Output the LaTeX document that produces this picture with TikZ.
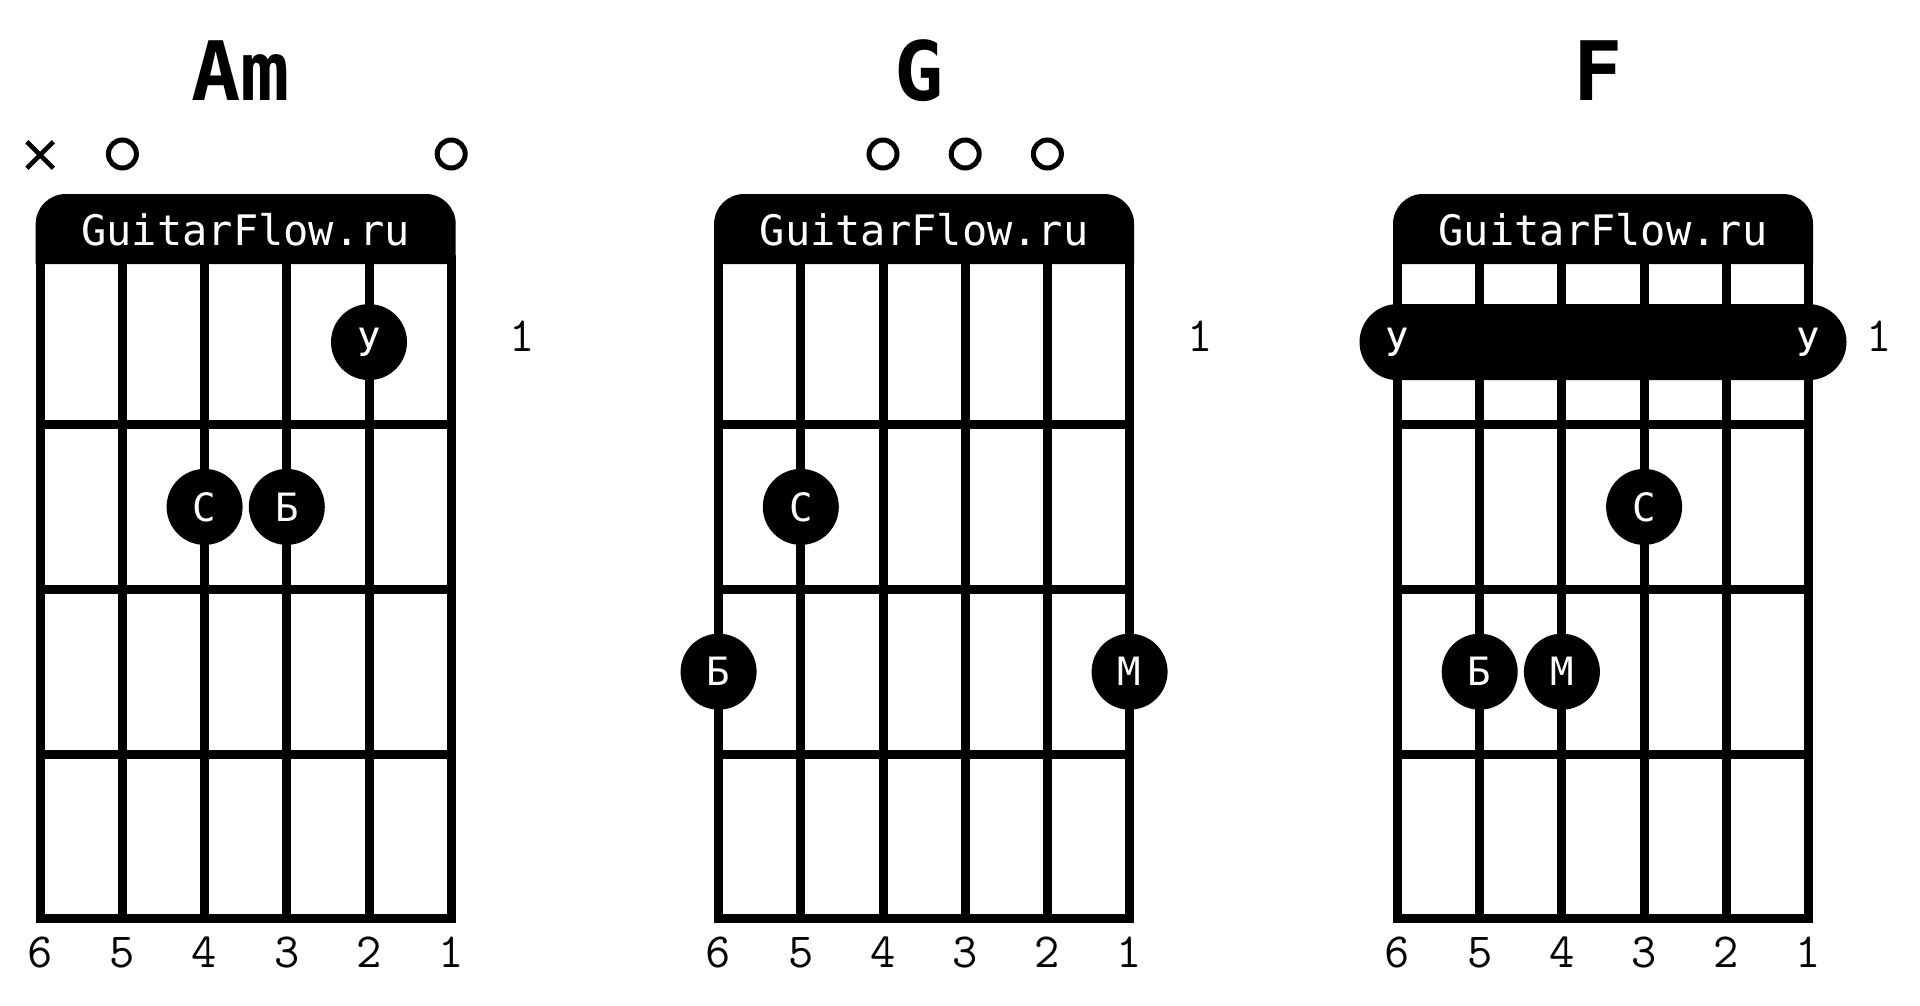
\documentclass[tikz,border=0pt]{standalone}
\usepackage{fontspec}
\usetikzlibrary{shapes.misc}
\newfontfamily\chordmono{DejaVu Sans Mono}
\tikzset{
  gridline/.style={line width=6.75pt, line join=miter},
  fretdot/.style={circle, fill=black, minimum size=57pt, inner sep=0pt, text=white,
     font=\chordmono\fontsize{29.25pt}{30pt}\selectfont, text height=21.3pt, text depth=0pt},
  barre/.style={rounded rectangle, fill=black, minimum height=57pt, inner sep=0pt},
  barrelabel/.style={inner sep=0pt, text=white,
     font=\chordmono\fontsize{29.25pt}{30pt}\selectfont, text height=21.3pt, text depth=0pt},
  openmark/.style={circle, draw, line width=3.75pt, minimum size=21pt, inner sep=0pt},
  mutemark/.style={cross out, draw, line width=3.4pt, minimum size=16.5pt, inner sep=0pt},
  chordtitle/.style={anchor=base, inner sep=0pt, font=\chordmono\bfseries\fontsize{61.5pt}{62pt}\selectfont},
  brand/.style={anchor=base, inner sep=0pt, text=white, font=\chordmono\fontsize{31.5pt}{32pt}\selectfont},
  stringnum/.style={anchor=base, inner sep=0pt, font=\ttfamily\fontsize{36.8pt}{37pt}\selectfont},
}
\newcommand\chordframe[2]{%
  \begin{scope}[shift={(#1,0)}]
    \fill (-4.5,264) -- (-4.5,224) arc[start angle=180,end angle=270,radius=30]
       -- (385.5,194) arc[start angle=270,end angle=360,radius=30] -- (415.5,264) -- cycle;
    \draw[gridline] (0,259.7) rectangle (411,918.9);
    \foreach \k in {1,...,4} \draw[gridline] ({82.2*\k},259.7) -- ({82.2*\k},918.9);
    \foreach \yy in {424.5,589.3,754.1} \draw[gridline] (0,\yy) -- (411,\yy);
    \node[brand] (#2-brand) at (205.5,245) {GuitarFlow.ru};
    \foreach \s in {1,...,6} \node[stringnum] (#2-n\s) at ({(6-\s)*82.2},967) {\s};
    \node[stringnum] (#2-fret) at (482,351.5) {1};
  \end{scope}}
\begin{document}
\begin{tikzpicture}[x=0.75pt,y=-0.75pt]
  \useasboundingbox (0,0) rectangle (1920,1006);
  \fill[white] (0,0) rectangle (1920,1006);
  \chordframe{40.2}{am}
  \chordframe{718.6}{g}
  \chordframe{1397.5}{f}
  % Am
  \node[chordtitle] (am-title) at (240.7,100) {Am};
  \node[mutemark] (am-x6) at (40.2,155) {};
  \node[openmark] (am-o5) at (122.4,154) {};
  \node[openmark] (am-o1) at (451.2,154) {};
  \node[fretdot] (am-d2) at (369,342.1) {У};
  \node[fretdot] (am-d4) at (204.6,506.9) {С};
  \node[fretdot] (am-d3) at (286.8,506.9) {Б};
  % G
  \node[chordtitle] (g-title) at (919.1,100) {G};
  \node[openmark] (g-o4) at (883,154) {};
  \node[openmark] (g-o3) at (965.2,154) {};
  \node[openmark] (g-o2) at (1047.4,154) {};
  \node[fretdot] (g-d5) at (800.8,506.9) {С};
  \node[fretdot] (g-d6) at (718.6,671.7) {Б};
  \node[fretdot] (g-d1) at (1129.6,671.7) {М};
  % F
  \node[chordtitle] (f-title) at (1598,100) {F};
  \node[barre, minimum width=365.25pt] (f-barre) at (1603,342.1) {};
  \node[barrelabel] (f-b6) at (1397.5,342.1) {У};
  \node[barrelabel] (f-b1) at (1808.5,342.1) {У};
  \node[fretdot] (f-d3) at (1644.1,506.9) {С};
  \node[fretdot] (f-d5) at (1479.7,671.7) {Б};
  \node[fretdot] (f-d4) at (1561.9,671.7) {М};
\end{tikzpicture}
\end{document}
